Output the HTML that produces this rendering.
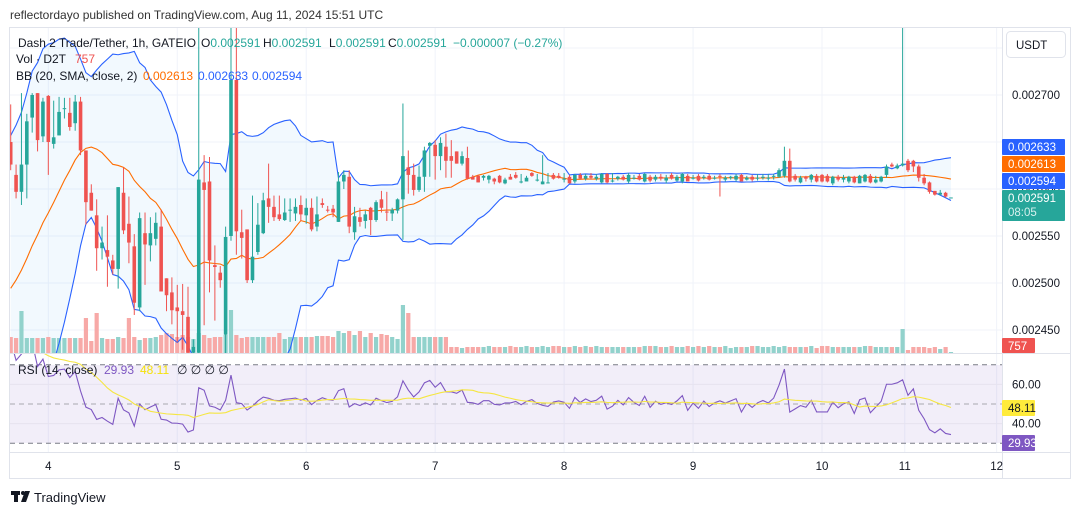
<!DOCTYPE html>
<html><head><meta charset="utf-8"><style>
html,body{margin:0;padding:0;background:#fff;}
svg{display:block;font-family:"Liberation Sans",sans-serif;}
</style></head><body>
<svg id="chart" width="1080" height="515" viewBox="0 0 1080 515" xmlns="http://www.w3.org/2000/svg">
<defs>
<clipPath id="pc"><rect x="10" y="28" width="992" height="325"/></clipPath>
<clipPath id="rc"><rect x="10" y="354" width="992" height="98"/></clipPath>
</defs>
<rect x="0" y="0" width="1080" height="515" fill="#fff"/>
<text x="10" y="19" font-size="12" fill="#333">reflectordayo published on TradingView.com, Aug 11, 2024 15:51 UTC</text>
<rect x="9.5" y="27.5" width="1061" height="451" fill="none" stroke="#e0e3eb"/>
<g id="grid"></g>
<rect x="10" y="365" width="992" height="78" fill="#7e57c2" fill-opacity="0.1"/>
<g id="rsiGuides"></g>
<g id="price" clip-path="url(#pc)"></g>
<g id="rsi" clip-path="url(#rc)"></g>
<line x1="10" y1="353.5" x2="1070" y2="353.5" stroke="#e0e3eb"/>
<line x1="10" y1="452.5" x2="1070" y2="452.5" stroke="#e0e3eb"/>
<line x1="1002.5" y1="28" x2="1002.5" y2="478" stroke="#e0e3eb"/>
<g id="axis"></g>
<g id="taxis"></g>
<rect x="1006.5" y="31.5" width="59" height="26" rx="4" fill="#fff" stroke="#e0e3eb"/>
<text x="1016" y="49" font-size="11.5" fill="#131722">USDT</text>
<g font-size="12">
<text x="18" y="47" fill="#131722" textLength="178" lengthAdjust="spacingAndGlyphs">Dash 2 Trade/Tether, 1h, GATEIO</text>
<text x="201" y="47" fill="#131722">O<tspan fill="#26a69a">0.002591</tspan></text>
<text x="263" y="47" fill="#131722">H<tspan fill="#26a69a">0.002591</tspan></text>
<text x="329" y="47" fill="#131722">L<tspan fill="#26a69a">0.002591</tspan></text>
<text x="388" y="47" fill="#131722">C<tspan fill="#26a69a">0.002591</tspan></text>
<text x="453" y="47" fill="#26a69a">−0.000007 (−0.27%)</text>
<text x="16" y="63" fill="#131722">Vol · D2T</text>
<text x="75" y="63" fill="#ef5350">757</text>
<text x="16" y="80" fill="#131722">BB (20, SMA, close, 2)</text>
<text x="143" y="80" fill="#ff6d00">0.002613</text>
<text x="198" y="80" fill="#2962ff">0.002633</text>
<text x="252" y="80" fill="#2962ff">0.002594</text>
<text x="18" y="374" fill="#131722">RSI (14, close)</text>
<text x="104" y="374" fill="#7e57c2">29.93</text>
<text x="140" y="374" fill="#f5e10b">48.11</text>
<text x="177" y="374" fill="#131722">∅  ∅  ∅  ∅</text>
</g>
<g>
<rect x="11" y="491" width="9" height="4" fill="#131722"/><rect x="14" y="491" width="4" height="11" fill="#131722"/>
<circle cx="23" cy="493" r="2" fill="#131722"/><polygon points="25,491 30,491 26,502 21,502" fill="#131722"/>
<text x="34" y="502" font-size="13" fill="#131722">TradingView</text>
</g>
</svg>
<script>
const opens=[2650,2615,2597,2626,2676,2702,2656,2699,2648,2657,2685,2681,2670,2693,2641,2596,2572,2537,2535,2524,2515,2596,2563,2539,2474,2553,2540,2547,2560,2505,2490,2474,2470,2464,2426,2426,2607,2608,2519,2511,2445,2550,2716,2554,2557,2503,2533,2553,2590,2581,2573,2567,2578,2574,2583,2572,2580,2560,2585,2578,2579,2565,2608,2613,2554,2570,2566,2580,2567,2589,2576,2574,2577,2589,2623,2615,2599,2613,2646,2647,2635,2645,2635,2640,2627,2633,2613,2614,2612,2610,2611,2614,2606,2613,2615,2608,2608,2617,2610,2605,2607,2615,2614,2611,2613,2608,2615,2611,2614,2611,2607,2616,2609,2611,2613,2608,2611,2614,2608,2613,2610,2613,2609,2615,2609,2608,2614,2611,2614,2612,2614,2612,2614,2610,2612,2610,2615,2610,2613,2612,2612,2612,2613,2613,2614,2630,2614,2607,2613,2610,2614,2615,2614,2606,2613,2610,2608,2613,2606,2608,2614,2607,2608,2615,2626,2622,2625,2630,2630,2624,2612,2607,2598,2594,2596,2591];
const highs=[2690,2626,2702,2680,2702,2702,2697,2700,2694,2698,2697,2697,2700,2698,2641,2605,2589,2560,2572,2530,2602,2623,2592,2552,2575,2575,2570,2575,2578,2505,2506,2498,2499,2496,2440,2780,2636,2634,2540,2518,2560,2780,2780,2578,2557,2593,2585,2596,2627,2593,2593,2590,2590,2590,2593,2590,2590,2592,2590,2582,2583,2618,2620,2620,2581,2580,2577,2581,2588,2598,2597,2580,2590,2691,2641,2627,2625,2645,2650,2652,2655,2659,2652,2640,2640,2645,2615,2615,2615,2615,2612,2615,2612,2616,2618,2616,2614,2618,2616,2636,2617,2617,2617,2617,2615,2616,2617,2616,2617,2616,2617,2617,2617,2614,2615,2617,2615,2616,2617,2615,2615,2616,2615,2617,2615,2617,2616,2615,2616,2615,2616,2614,2616,2614,2614,2616,2616,2614,2615,2616,2616,2616,2616,2622,2645,2643,2616,2614,2614,2616,2616,2616,2616,2614,2615,2615,2614,2614,2615,2616,2616,2614,2614,2626,2628,2627,2775,2632,2631,2626,2616,2608,2598,2599,2597,2591];
const lows=[2620,2590,2583,2590,2660,2640,2650,2615,2643,2657,2675,2662,2662,2636,2562,2577,2513,2525,2496,2509,2494,2552,2521,2466,2470,2498,2523,2540,2491,2470,2456,2437,2429,2420,2420,2420,2455,2490,2460,2495,2420,2545,2530,2526,2500,2500,2530,2552,2564,2566,2566,2566,2565,2566,2566,2563,2555,2555,2580,2575,2570,2565,2600,2553,2546,2560,2558,2551,2565,2575,2566,2566,2574,2546,2595,2593,2597,2597,2613,2610,2620,2612,2612,2627,2625,2610,2610,2607,2609,2606,2605,2606,2605,2610,2611,2606,2608,2613,2608,2605,2606,2610,2611,2607,2606,2606,2610,2609,2610,2609,2606,2606,2607,2609,2609,2606,2610,2609,2607,2607,2608,2609,2606,2610,2608,2606,2608,2610,2608,2610,2609,2610,2592,2608,2610,2608,2608,2609,2608,2609,2610,2609,2610,2612,2612,2607,2608,2606,2608,2607,2607,2607,2607,2604,2608,2607,2606,2606,2606,2607,2606,2606,2607,2612,2623,2621,2624,2618,2618,2608,2604,2595,2593,2593,2591,2591];
const closes=[2626,2597,2626,2672,2700,2652,2693,2650,2655,2682,2686,2666,2693,2641,2586,2577,2537,2543,2528,2515,2602,2556,2543,2479,2569,2541,2553,2564,2491,2487,2471,2470,2466,2426,2432,2610,2599,2524,2517,2503,2549,2716,2555,2548,2503,2528,2562,2588,2581,2570,2568,2575,2578,2581,2573,2580,2557,2573,2583,2577,2575,2608,2615,2560,2571,2565,2573,2567,2586,2580,2575,2578,2589,2635,2615,2599,2613,2641,2649,2635,2649,2630,2630,2627,2635,2611,2610,2607,2614,2614,2608,2607,2610,2610,2612,2608,2612,2614,2610,2608,2607,2611,2612,2611,2606,2615,2611,2614,2612,2613,2616,2607,2609,2613,2610,2615,2612,2610,2616,2609,2613,2611,2612,2611,2613,2616,2608,2612,2609,2613,2610,2612,2613,2612,2613,2614,2608,2612,2610,2612,2613,2612,2614,2620,2630,2608,2610,2612,2611,2615,2608,2608,2608,2613,2610,2612,2613,2607,2614,2615,2607,2610,2613,2624,2624,2625,2627,2620,2624,2612,2606,2597,2594,2596,2592,2591];
const volumes=[16,15,42,15,15,15,15,16,15,15,15,15,15,15,35,12,40,15,14,14,16,15,35,16,13,15,15,16,18,20,19,16,18,16,14,20,18,15,16,16,18,43,18,15,16,16,16,16,16,16,20,14,16,16,16,16,16,17,17,17,16,22,20,22,18,22,16,20,16,19,18,16,14,48,40,16,16,16,16,16,16,16,6,6,5,6,6,6,6,7,6,6,6,7,6,6,7,6,6,7,6,7,7,6,6,7,6,7,6,7,6,6,6,6,6,6,6,6,7,7,7,6,6,7,6,6,7,6,7,6,7,6,6,7,5,6,6,6,7,7,6,6,7,6,7,6,6,6,6,7,5,7,7,6,6,6,6,6,6,7,7,6,6,6,6,6,24,3,6,6,6,5,6,4,6,1];
const preCloses=[2420,2415,2425,2430,2420,2435,2440,2430,2445,2450,2460,2470,2480,2500,2550,2580,2620,2650,2640];
const priceTicks=[2750,2700,2650,2600,2550,2500,2450];
const priceTickLabels=["","0.002700","","0.002600","0.002550","0.002500","0.002450"];
const dayIdx=[7,31,55,79,103,127,151,166.4,183.5];
const dayLabels=["4","5","6","7","8","9","10","11","12"];
const rsiTicks=[60,40];

const NS="http://www.w3.org/2000/svg";
function xI(i){return 10.7+i*5.373;}
function yP(p){return 95+(2700-p)*0.94;}
function yV(v){return 353-v;}
function yR(r){return 404-(r-50)*1.96;}
function mk(tag,attrs,parent){const e=document.createElementNS(NS,tag);for(const k in attrs)e.setAttribute(k,attrs[k]);parent.appendChild(e);return e;}
const G=document.getElementById('grid'),P=document.getElementById('price'),R=document.getElementById('rsi'),A=document.getElementById('axis'),T=document.getElementById('taxis'),RG=document.getElementById('rsiGuides');

priceTicks.forEach((p,k)=>{
  const l=mk('line',{x1:10,x2:1002,y1:yP(p),y2:yP(p),stroke:'#f0f3fa'},G);
  
  
  if(priceTickLabels[k]){const t=mk('text',{x:1012,y:yP(p)+4,'font-size':11.5,fill:'#131722'},A);t.textContent=priceTickLabels[k];
  
  }
});
dayIdx.forEach((d,k)=>{
  const x=xI(d);
  if(x<1002){const l=mk('line',{x1:x,x2:x,y1:28,y2:452,stroke:'#f0f3fa'},G);
  
  }
  const t=mk('text',{x:x,y:470,'font-size':11.5,fill:'#131722','text-anchor':'middle'},T);t.textContent=dayLabels[k];
  
  
});
rsiTicks.forEach(r=>{
  const l=mk('line',{x1:10,x2:1002,y1:yR(r),y2:yR(r),stroke:'#e6e3ef'},RG);
  
  
  const t=mk('text',{x:1012,y:yR(r)+4,'font-size':11.5,fill:'#131722'},A);t.textContent=r.toFixed(2);
  
  
});
[70,50,30].forEach(r=>{
  const l=mk('line',{x1:10,x2:1002,y1:yR(r),y2:yR(r),stroke:r==50?'#a8a8b0':'#787b86','stroke-dasharray':'5,4'},RG);
  
  
});

const all=preCloses.concat(closes),off=preCloses.length;
const up=[],mid=[],lo=[];
for(let i=0;i<closes.length;i++){const s=all.slice(i+off-19,i+off+1);const m=s.reduce((a,b)=>a+b,0)/20;const sd=Math.sqrt(s.reduce((a,b)=>a+(b-m)*(b-m),0)/20);mid.push(m);up.push(m+2*sd);lo.push(m-2*sd);}
let fill='';for(let i=0;i<up.length;i++)fill+=(i?'L':'M')+xI(i)+','+yP(up[i]);for(let i=lo.length-1;i>=0;i--)fill+='L'+xI(i)+','+yP(lo[i]);
const bf=mk('path',{d:fill+'Z',fill:'#2196f3','fill-opacity':0.06},P);


volumes.forEach((v,i)=>{
  const b=mk('rect',{x:xI(i)-2.1,y:yV(v),width:4.2,height:v,fill:closes[i]>=opens[i]?'#92d2cc':'#f7a9a7'},P);
  
  
});
function pl(arr,f){return arr.map((v,i)=>(i?'L':'M')+xI(i)+','+f(v)).join('');}
[[up,'#2962ff','bb-upper'],[lo,'#2962ff','bb-lower'],[mid,'#ff6d00','bb-basis']].forEach(([a,c,n])=>{
  const l=mk('path',{d:pl(a,yP),fill:'none',stroke:c,'stroke-width':1.1},P);
  
  
});
closes.forEach((c,i)=>{
  const o=opens[i],col=c>=o?'#26a69a':'#ef5350',x=xI(i);
  const w=mk('line',{x1:x,x2:x,y1:yP(highs[i]),y2:yP(lows[i]),stroke:col,'stroke-width':1},P);
  
  
  const t=yP(Math.max(o,c)),h=Math.max(1,Math.abs(yP(o)-yP(c)));
  const b=mk('rect',{x:x-1.8,y:t,width:3.6,height:h,fill:col},P);
  
  
});
const rsi=[];let ag=0,al=0;
for(let j=1;j<all.length;j++){const d=all[j]-all[j-1],g=Math.max(d,0),l=Math.max(-d,0);
  if(j<=14){ag+=g/14;al+=l/14;}else{ag=(ag*13+g)/14;al=(al*13+l)/14;}
  if(j>=off){rsi.push(al==0?100:100-100/(1+ag/al));}}
const rma=rsi.map((v,i)=>{const s=rsi.slice(Math.max(0,i-13),i+1);return s.reduce((a,b)=>a+b,0)/s.length;});
const rl=mk('path',{d:pl(rsi,yR),fill:'none',stroke:'#7e57c2','stroke-width':1.1},R);


const rm=mk('path',{d:pl(rma,yR),fill:'none',stroke:'#f5e642','stroke-width':1.1},R);


const tags=[[139,16,'#2962ff','0.002633','#fff'],[156,16,'#ff6d00','0.002613','#fff'],[173,16,'#2962ff','0.002594','#fff'],[190,31,'#26a69a','0.002591','#fff'],[338,15,'#ef5350','757','#fff'],[400,16,'#ffeb3b','48.11','#131722'],[435,16,'#7e57c2','29.93','#fff']];
tags.forEach(([y,h,bg,txt,fc])=>{
  const w=txt.length<6?33:63;
  const r=mk('rect',{x:1002,y:y,width:w,height:h,fill:bg,rx:1},A);
  
  
  const t=mk('text',{x:1008,y:y+12,'font-size':11.5,fill:fc},A);t.textContent=txt;
  
  
});
const cd=mk('text',{x:1008,y:216,'font-size':11.5,fill:'#d6f0ed'},A);cd.textContent='08:05';


</script>
</body></html>
